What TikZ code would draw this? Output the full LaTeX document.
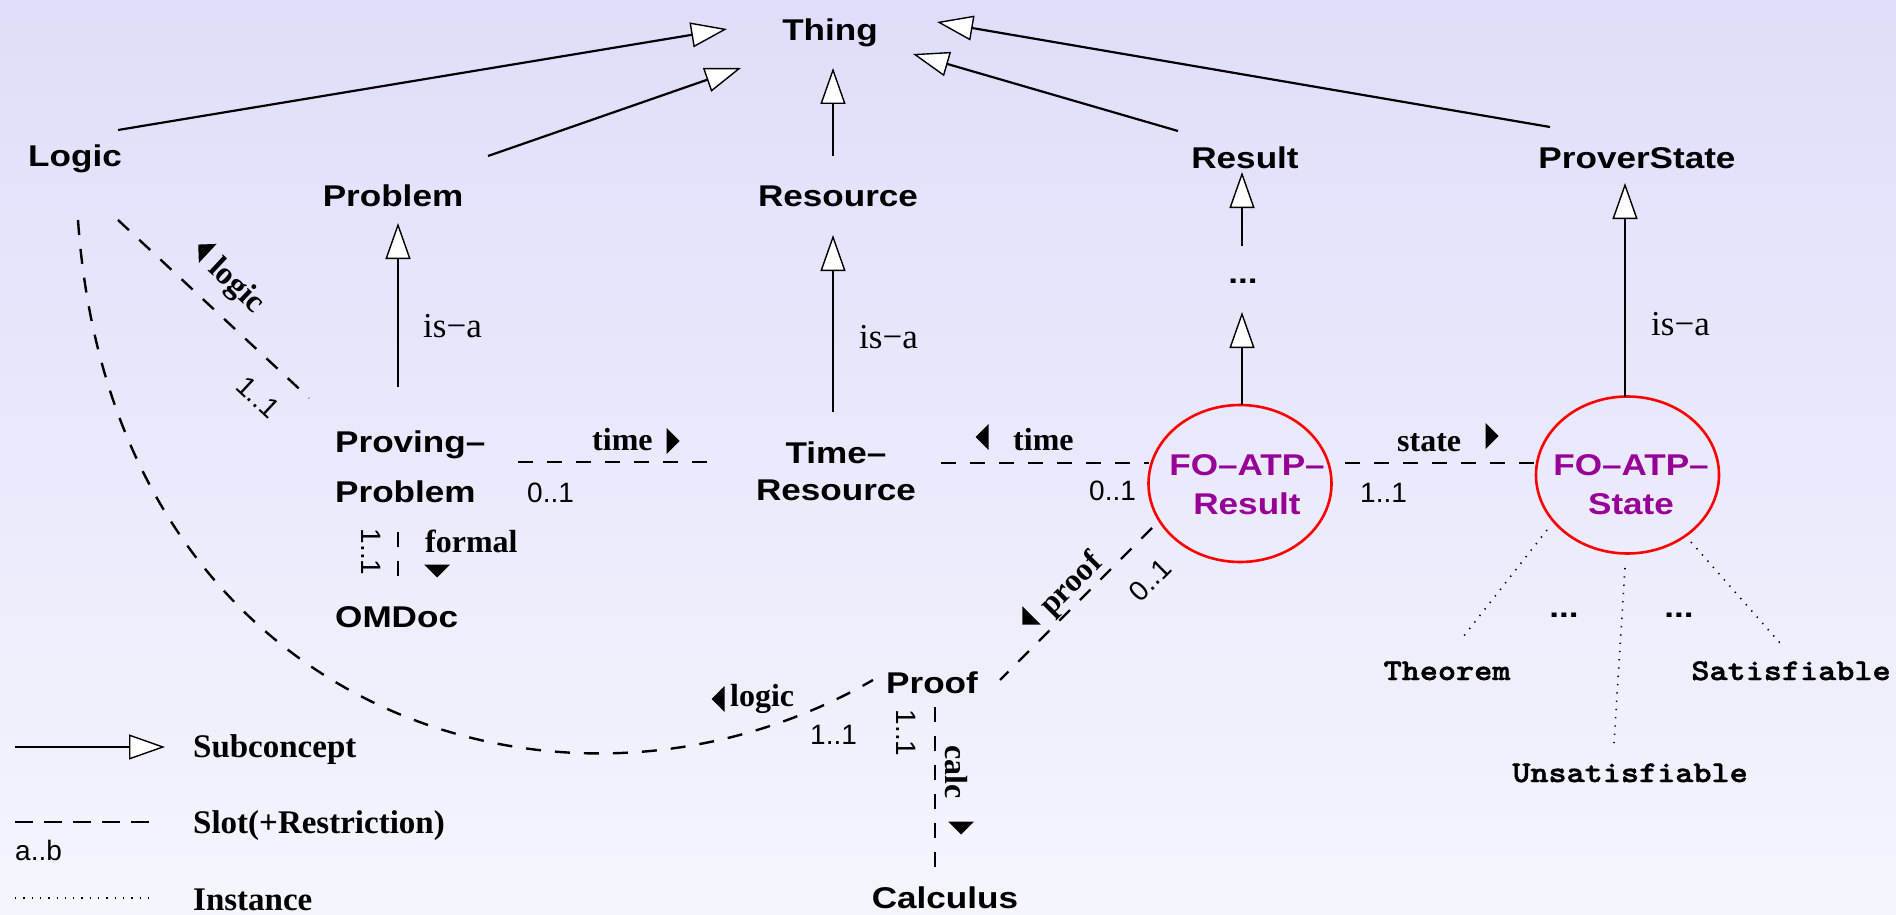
\documentclass[tikz,border=0pt]{standalone}
\usepackage{fontspec}
\usepackage{graphicx}
\usetikzlibrary{arrows.meta,shapes.geometric}
\newfontfamily\cfont{Liberation Sans}[FakeStretch=1.17]
\newfontfamily\nfont{Liberation Sans}
\newfontfamily\sfont{Liberation Serif}
\newfontfamily\mfont{lmmonolt10-bold.otf}[FakeStretch=1.15,FakeBold=1.6]
\definecolor{bgtop}{RGB}{222,222,250}
\definecolor{bgbot}{RGB}{245,245,253}
\definecolor{fopurple}{RGB}{150,0,150}
\newcommand{\smark}[2]{\fill[shift={#1},rotate=#2] (6.5,0) -- (-6.5,-13) -- (-6.5,13) -- cycle;}
\tikzset{
  concept/.style={font={\cfont\bfseries\fontsize{30}{36}\selectfont}, inner sep=0pt, anchor=base},
  focept/.style={concept, text=fopurple},
  foell/.style={ellipse, draw=red, line width=2.6pt, minimum width=183pt, minimum height=157pt, inner sep=0pt},
  slotlbl/.style={font={\sfont\bfseries\fontsize{32}{38}\selectfont}, inner sep=0pt},
  legendlbl/.style={font={\sfont\bfseries\fontsize{33}{38}\selectfont}, inner sep=0pt, anchor=base west},
  card/.style={font={\nfont\fontsize{28}{32}\selectfont}, inner sep=0pt},
  isa/.style={font={\sfont\fontsize{35}{40}\selectfont}, inner sep=0pt, anchor=base west},
  inst/.style={font={\mfont\fontsize{30}{36}\selectfont}, inner sep=0pt, anchor=base},
  sub/.style={line width=2.2pt, -{Triangle[length=36pt,width=25pt,fill=white,line width=1.4pt]}},
  slot/.style={line width=2.4pt, dash pattern=on 15pt off 14pt},
  instl/.style={line width=1.6pt, dash pattern=on 1.3pt off 7pt},
}
\begin{document}
\begin{tikzpicture}[x=1pt,y=-1pt]
\shade[top color=bgtop,bottom color=bgbot] (0,0) rectangle (1896,915);
\useasboundingbox (0,0) rectangle (1896,915);

% concepts
\node[concept] (thing) at (830,41) {Thing};
\node[concept] (logic) at (75,167) {Logic};
\node[concept] (problem) at (393,207) {Problem};
\node[concept] (resource) at (838,207) {Resource};
\node[concept] (result) at (1245,168) {Result};
\node[concept] (proverstate) at (1637,168) {ProverState};
\node[concept] (dotsr) at (1243,283) {...};
\node[concept,anchor=base west] (pp) at (335,452) {Proving–};
\node[concept,anchor=base west] (ppb) at (335,502) {Problem};
\node[concept] (tr) at (836,463) {Time–};
\node[concept] (trb) at (836,500) {Resource};
\node[concept,anchor=base west] (omdoc) at (335,627) {OMDoc};
\node[concept] (proof) at (932,693) {Proof};
\node[concept] (calculus) at (945,908) {Calculus};

\node[foell] (fores) at (1240,483.5) {};
\node[focept] (foresa) at (1247,475) {FO–ATP–};
\node[focept] (foresb) at (1247,514) {Result};
\node[foell] (fost) at (1627.5,475) {};
\node[focept] (fosta) at (1631,475) {FO–ATP–};
\node[focept] (fostb) at (1631,514) {State};

% instances
\node[inst] (theorem) at (1447,680) {Theorem};
\node[inst] (sat) at (1791,680) {Satisfiable};
\node[inst] (unsat) at (1630,782) {Unsatisfiable};
\node[concept] (idots1) at (1564,617) {...};
\node[concept] (idots2) at (1679,617) {...};

% is-a labels
\node[isa] (isa1) at (423,337) {is−a};
\node[isa] (isa2) at (859,348) {is−a};
\node[isa] (isa3) at (1651,335) {is−a};

% subconcept connectors
\coordinate (lg1) at (118,130); \coordinate (th1) at (727,29);
\coordinate (pr1) at (488,156); \coordinate (th2) at (741,68);
\coordinate (rs1) at (833,156); \coordinate (th3) at (833,68);
\coordinate (re1) at (1178,131); \coordinate (th4) at (913,54);
\coordinate (ps1) at (1550,127); \coordinate (th5) at (937,22);
\coordinate (dr1) at (1242,246); \coordinate (re2) at (1242,172);
\coordinate (fr1) at (1242,405); \coordinate (dr2) at (1242,312);
\coordinate (fs1) at (1625,397); \coordinate (ps2) at (1625,183);
\coordinate (pp1) at (398,387); \coordinate (pr2) at (398,223);
\coordinate (tr1) at (833,412); \coordinate (rs2) at (833,235);
\draw[sub] (lg1) -- (th1);
\draw[sub] (pr1) -- (th2);
\draw[sub] (rs1) -- (th3);
\draw[sub] (re1) -- (th4);
\draw[sub] (ps1) -- (th5);
\draw[sub] (dr1) -- (re2);
\draw[sub] (fr1) -- (dr2);
\draw[sub] (fs1) -- (ps2);
\draw[sub] (pp1) -- (pr2);
\draw[sub] (tr1) -- (rs2);

% slots
\coordinate (lg2) at (118,220); \coordinate (pp2) at (309,398);
\draw[slot] (lg2) -- (pp2);
\node[slotlbl,rotate=-43] (lbllogic1) at (236,287) {logic};
\smark{(203,249)}{137}
\node[card,rotate=-43] (c1) at (258,397) {1..1};

\coordinate (lg3) at (78,220); \coordinate (pf1) at (873,680);
\draw[slot] (lg3) .. controls (112,710) and (560,860) .. (pf1);
\node[slotlbl,anchor=base west] (lbllogic2) at (730,706) {logic};
\smark{(718,699)}{180}
\node[card,anchor=base west] (c2) at (810,744) {1..1};

\coordinate (pp3) at (518,462); \coordinate (tr2) at (718,462);
\draw[slot] (pp3) -- (tr2);
\node[slotlbl,anchor=base west] (lbltime1) at (592,450) {time};
\smark{(673,441)}{0}
\node[card,anchor=base west] (c3) at (527,502) {0..1};

\coordinate (tr3) at (941,463); \coordinate (fr2) at (1149,463);
\draw[slot] (tr3) -- (fr2);
\node[slotlbl,anchor=base west] (lbltime2) at (1013,450) {time};
\smark{(982,437)}{180}
\node[card,anchor=base west] (c4) at (1089,500) {0..1};

\coordinate (fr3) at (1345,463); \coordinate (fs2) at (1536,463);
\draw[slot] (fr3) -- (fs2);
\node[slotlbl,anchor=base west] (lblstate) at (1397,451) {state};
\smark{(1492,436)}{0}
\node[card,anchor=base west] (c5) at (1360,502) {1..1};

\coordinate (fr4) at (1152,528); \coordinate (pf2) at (1000,680);
\draw[slot] (fr4) -- (pf2);
\node[slotlbl,rotate=45] (lblproof) at (1072,585) {proof};
\smark{(1027,620)}{225}
\node[card,rotate=45] (c6) at (1150,580) {0..1};

\coordinate (pp4) at (398,532); \coordinate (om1) at (398,580);
\draw[slot] (pp4) -- (om1);
\node[slotlbl,anchor=base west] (lblformal) at (425,552) {formal};
\smark{(437,571)}{-90}
\node[card,rotate=-90] (c7) at (371,552) {1..1};

\coordinate (pf3) at (935,707); \coordinate (ca1) at (935,872);
\draw[slot] (pf3) -- (ca1);
\node[slotlbl,rotate=-90] (lblcalc) at (956,772) {calc};
\smark{(961,828)}{-90}
\node[card,rotate=-90] (c8) at (906,733) {1..1};

% instance links
\coordinate (fs3) at (1547,530); \coordinate (thm1) at (1463,637);
\coordinate (fs4) at (1625,568); \coordinate (uns1) at (1614,743);
\coordinate (fs5) at (1691,542); \coordinate (sat1) at (1780,643);
\draw[instl] (fs3) -- (thm1);
\draw[instl] (fs4) -- (uns1);
\draw[instl] (fs5) -- (sat1);

% legend
\coordinate (l1a) at (15,747); \coordinate (l1b) at (165,747);
\draw[sub] (l1a) -- (l1b);
\node[legendlbl] (lsub) at (193,757) {Subconcept};
\coordinate (l2a) at (15,822); \coordinate (l2b) at (155,822);
\draw[line width=2.4pt, dash pattern=on 18pt off 11pt] (l2a) -- (l2b);
\node[legendlbl] (lslot) at (193,833) {Slot(+Restriction)};
\node[card,anchor=base west] (lab) at (15,860) {a..b};
\coordinate (l3a) at (15,898); \coordinate (l3b) at (155,898);
\draw[instl] (l3a) -- (l3b);
\node[legendlbl] (linst) at (193,910) {Instance};
\end{tikzpicture}
\end{document}
